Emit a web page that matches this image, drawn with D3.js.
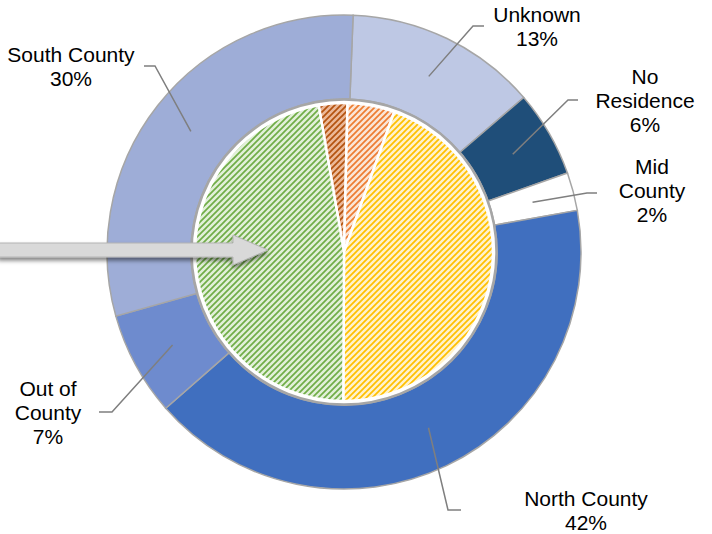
<!DOCTYPE html>
<html>
<head>
<meta charset="utf-8">
<script src="https://cdn.jsdelivr.net/npm/d3@7"></script>
<style>
  body { margin: 0; background: #fff; }
  text { font-family: "Liberation Sans", Arial, sans-serif; font-size: 21px; fill: #000; }
</style>
</head>
<body>
<svg id="chart" width="712" height="534"></svg>
<script>
// outer ring (residence)
var outerNames = ["Unknown", "No Residence", "Mid County", "North County", "Out of County", "South County"];
var outerValues = [13.1, 5.9, 2.6, 41.4, 7.1, 30.0];
var outerPct = ["13%", "6%", "2%", "42%", "7%", "30%"];
var outerColors = ["#bec8e4", "#1f4e79", "#ffffff", "#406fbf", "#6e8bce", "#9eadd7"];

// inner pie (hatched, unlabeled)
var innerNames = ["brown", "orange", "yellow", "green"];
var innerValues = [3.1, 5.1, 44.6, 47.2];
var innerBg = ["#ecb898", "#fbe5d6", "#fff2cc", "#e2f0d9"];
var innerFg = ["#b4530f", "#ed7d31", "#ffc000", "#70ad47"];

var cx = 344, cy = 252, R = 237, r0 = 153, rp = 149;
var deg = Math.PI / 180;

var svg = d3.select("#chart");
var defs = svg.append("defs");

innerNames.forEach(function (n, i) {
    var p = defs.append("pattern")
        .attr("id", "hatch-" + n)
        .attr("patternUnits", "userSpaceOnUse")
        .attr("width", 6).attr("height", 6);
    p.append("rect").attr("width", 6).attr("height", 6).attr("fill", innerBg[i]);
    p.append("path")
        .attr("d", "M-1,7 L7,-1 M-4,4 L4,-4 M2,10 L10,2")
        .attr("stroke", innerFg[i])
        .attr("stroke-width", 1.7);
});

var shadow = defs.append("filter").attr("id", "shadow")
    .attr("x", "-10%").attr("y", "-50%").attr("width", "120%").attr("height", "200%");
shadow.append("feDropShadow").attr("dx", 0).attr("dy", 3).attr("stdDeviation", 2)
    .attr("flood-color", "#000").attr("flood-opacity", 0.5);

var g = svg.append("g").attr("transform", "translate(" + cx + "," + cy + ")");

// donut
var pieOuter = d3.pie().sort(null).startAngle(2.2 * deg).endAngle(2.2 * deg + 2 * Math.PI);
var arcOuter = d3.arc().innerRadius(r0).outerRadius(R);
var outerArcs = pieOuter(outerValues);

g.selectAll("path.outer")
    .data(outerArcs)
    .enter()
    .append("path")
    .attr("class", "outer")
    .attr("d", arcOuter)
    .attr("fill", function (d, i) { return outerColors[i] })
    .attr("stroke", "#a6a6a6")
    .attr("stroke-width", 1.5);

// white disc + shadow ring behind inner pie
g.append("circle").attr("r", r0 - 0.5).attr("fill", "#fff")
    .attr("stroke", "#a6a6a6").attr("stroke-width", 2.5);

var pieInner = d3.pie().sort(null).startAngle(-9.8 * deg).endAngle(-9.8 * deg + 2 * Math.PI);
var arcInner = d3.arc().innerRadius(0).outerRadius(rp);

g.selectAll("path.inner")
    .data(pieInner(innerValues))
    .enter()
    .append("path")
    .attr("class", "inner")
    .attr("d", arcInner)
    .attr("fill", function (d, i) { return "url(#hatch-" + innerNames[i] + ")" })
    .attr("stroke", "#fff")
    .attr("stroke-width", 2.5)
    .attr("stroke-linejoin", "round");

// arrow
svg.append("polygon")
    .attr("points", "-2,243 233,243 233,235 268,250 233,265 233,257 -2,257")
    .attr("fill", "#d9d9d9")
    .attr("stroke", "#b4b4b4")
    .attr("stroke-width", 1)
    .attr("filter", "url(#shadow)");

// labels: elbow + end of leader, text centre and first baseline
var labelPos = [
    { elbow: [473, 26], end: [484, 26], x: 537, y: 22, lines: ["Unknown"] },
    { elbow: [568, 100], end: [578, 100], x: 645, y: 84, lines: ["No", "Residence"] },
    { elbow: [587, 193], end: [597, 193], x: 652, y: 174, lines: ["Mid", "County"] },
    { elbow: [448, 510], end: [461, 510], x: 586, y: 506, lines: ["North County"] },
    { elbow: [112, 412], end: [99, 412], x: 48, y: 396, lines: ["Out of", "County"] },
    { elbow: [155, 66], end: [144, 66], x: 71, y: 62, lines: ["South County"] }
];

outerArcs.forEach(function (d, i) {
    var c = arcOuter.centroid(d);
    var lp = labelPos[i];
    svg.append("polyline")
        .attr("points", [[cx + c[0], cy + c[1]], lp.elbow, lp.end].map(function (p) { return p.join(",") }).join(" "))
        .attr("fill", "none")
        .attr("stroke", "#7f7f7f")
        .attr("stroke-width", 1.5);
    var t = svg.append("text").attr("text-anchor", "middle");
    lp.lines.concat([outerPct[i]]).forEach(function (s, k) {
        t.append("tspan").attr("x", lp.x).attr("y", lp.y + k * 24).text(s);
    });
});
</script>
</body>
</html>
